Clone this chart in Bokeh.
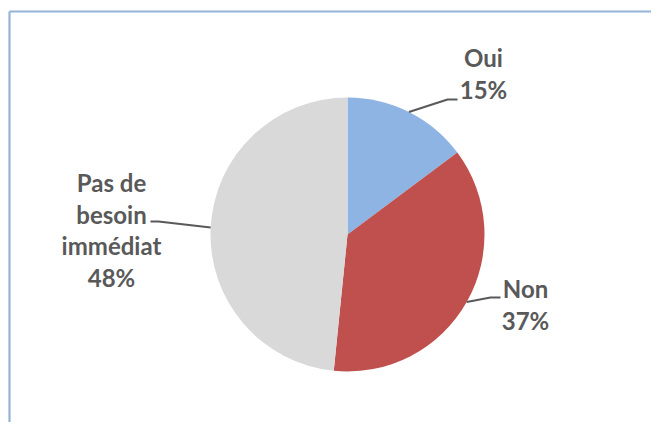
import math
from bokeh.plotting import figure
from bokeh.models import Range1d
from bokeh.core.properties import value
from bokeh.embed import file_html
from bokeh.resources import INLINE

# ---- data ----
categories = ["Oui", "Non", "Pas de besoin immédiat"]
shares = [14.8, 36.8, 48.4]
pct_labels = ["15%", "37%", "48%"]
colors = ["#8EB4E3", "#C0504D", "#D9D9D9"]

# ---- layout (pixel-like coordinates, y measured from the top) ----
W, H = 651, 422
cx, cy_top, R = 347, 234, 137
label_lines = {
    "Oui": ["Oui"],
    "Non": ["Non"],
    "Pas de besoin immédiat": ["Pas de", "besoin", "immédiat"],
}
label_anchor = {  # x centre, first baseline (from top)
    "Oui": (483, 57),
    "Non": (525, 288),
    "Pas de besoin immédiat": (111, 182),
}
leader_mid = {
    "Oui": [(447, 99), (457, 99)],
    "Non": [(490, 297), (500, 297)],
    "Pas de besoin immédiat": [(158, 221), (150, 221)],
}
LINE_STEP = 31.5
FONT = "Lato"
TXT = "#595959"


def Y(y_img):
    return H - y_img


p = figure(width=W, height=H, output_backend="svg", toolbar_location=None,
           x_range=Range1d(0, W), y_range=Range1d(0, H),
           min_border=0, outline_line_color=None)
p.axis.visible = False
p.grid.visible = False
p.background_fill_color = "white"
p.border_fill_color = "white"

# chart frame border (left and top visible)
p.line([9, 9], [Y(11), Y(440)], line_color="#95B3D7", line_width=2.2)
p.line([9, 670], [Y(11), Y(11)], line_color="#95B3D7", line_width=2.2)

total = sum(shares)
start = math.pi / 2
starts, ends, mids = [], [], []
for s in shares:
    sweep = 2 * math.pi * s / total
    starts.append(start)
    ends.append(start - sweep)
    mids.append(start - sweep / 2)
    start -= sweep

p.wedge(x=[cx] * 3, y=[Y(cy_top)] * 3, radius=R, start_angle=starts,
        end_angle=ends, direction="clock", fill_color=colors,
        line_color=None)

for cat, pct, mid in zip(categories, pct_labels, mids):
    sx = cx + R * math.cos(mid)
    sy = Y(cy_top) + R * math.sin(mid)
    xs = [sx] + [pt[0] for pt in leader_mid[cat]]
    ys = [sy] + [Y(pt[1]) for pt in leader_mid[cat]]
    p.line(xs, ys, line_color=TXT, line_width=2)
    lx, ly = label_anchor[cat]
    lines = label_lines[cat] + [pct]
    p.text(x=[lx] * len(lines),
           y=[Y(ly + i * LINE_STEP) for i in range(len(lines))],
           text=lines, text_align="center", text_baseline="alphabetic",
           text_font=value(FONT), text_font_style="bold",
           text_font_size="24px", text_color=TXT)

open("out.html", "w").write(file_html(p, INLINE))
